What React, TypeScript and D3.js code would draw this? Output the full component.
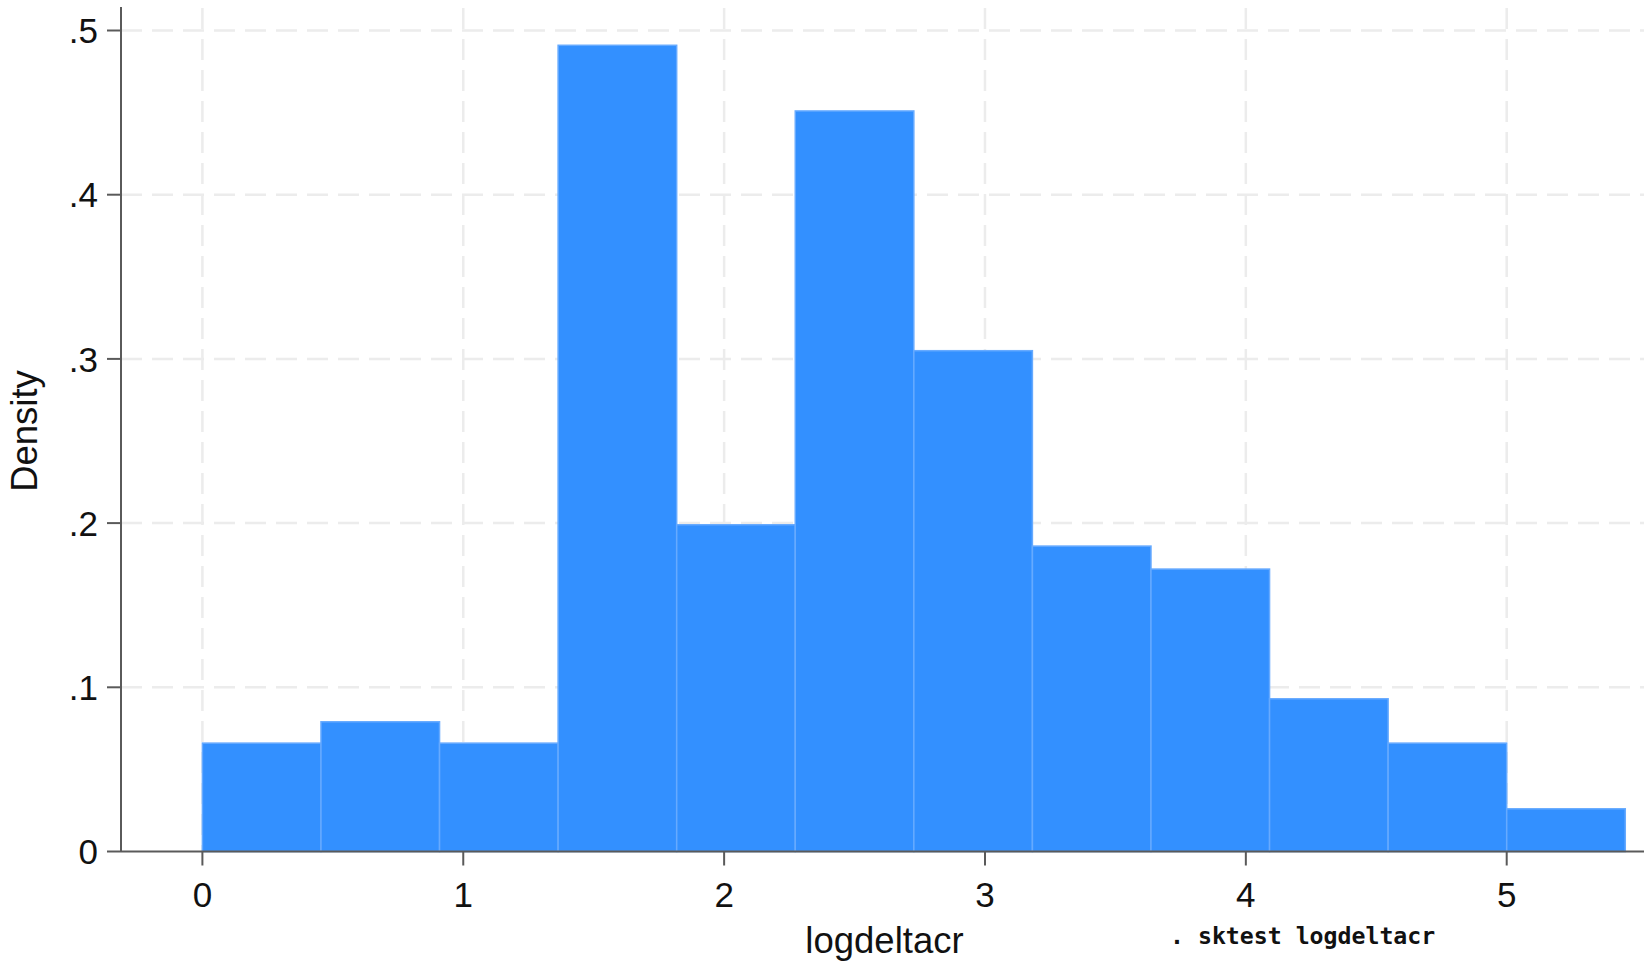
import React from "react";
import * as d3 from "d3";

// Histogram data (density per bin), bins start at 0 with width 5/11
const binStart = 0;
const binWidth = 5 / 11;
const densities = [0.066, 0.079, 0.066, 0.491, 0.199, 0.451, 0.305, 0.186, 0.172, 0.093, 0.066, 0.026];
const xTicks = [0, 1, 2, 3, 4, 5];
const yTicks = [0, 0.1, 0.2, 0.3, 0.4, 0.5];
const yTickLabels = ["0", ".1", ".2", ".3", ".4", ".5"];
const xTitle = "logdeltacr";
const yTitle = "Density";
const note = ". sktest logdeltacr";

const W = 1644;
const H = 966;

export default function App() {
  const x = d3.scaleLinear().domain([0, 5]).range([202.4, 1506.7]);
  const y = d3.scaleLinear().domain([0, 0.5]).range([851.5, 30.5]);
  const axisLeft = 121;
  const plotTop = 7;
  const plotRight = W;
  const font = "'Liberation Sans', Arial, sans-serif";
  const gridColor = "#ececec";
  const axisColor = "#5a5a5a";

  return (
    <svg
      width={W}
      height={H}
      viewBox={`0 0 ${W} ${H}`}
      style={{ position: "absolute", left: 0, top: 0, background: "#fff" }}
    >
      <rect x={0} y={0} width={W} height={H} fill="#fff" />
      {/* grid */}
      {yTicks.filter((t) => t > 0).map((t) => (
        <line
          key={"gy" + t}
          x1={axisLeft}
          x2={plotRight}
          y1={y(t)}
          y2={y(t)}
          stroke={gridColor}
          strokeWidth={2.5}
          strokeDasharray="21 10"
        />
      ))}
      {xTicks.map((t) => (
        <line
          key={"gx" + t}
          x1={x(t)}
          x2={x(t)}
          y1={plotTop + 1}
          y2={y(0)}
          stroke={gridColor}
          strokeWidth={2.5}
          strokeDasharray="21 10"
        />
      ))}
      {/* bars */}
      {densities.map((d, i) => {
        const x0 = x(binStart + i * binWidth);
        const x1 = x(binStart + (i + 1) * binWidth);
        return (
          <rect
            key={"b" + i}
            x={x0}
            y={y(d)}
            width={x1 - x0}
            height={y(0) - y(d)}
            fill="#3390ff"
            stroke="#66aaff"
            strokeWidth={1.5}
          />
        );
      })}
      {/* axes */}
      <line x1={axisLeft} x2={axisLeft} y1={plotTop} y2={y(0)} stroke={axisColor} strokeWidth={2} />
      <line x1={axisLeft} x2={plotRight} y1={y(0)} y2={y(0)} stroke={axisColor} strokeWidth={2} />
      {yTicks.map((t, i) => (
        <g key={"yt" + t}>
          <line x1={axisLeft - 14} x2={axisLeft} y1={y(t)} y2={y(t)} stroke={axisColor} strokeWidth={2} />
          <text
            x={98}
            y={y(t)}
            dy="0.36em"
            textAnchor="end"
            fontFamily={font}
            fontSize={35}
            fill="#111"
          >
            {yTickLabels[i]}
          </text>
        </g>
      ))}
      {xTicks.map((t) => (
        <g key={"xt" + t}>
          <line x1={x(t)} x2={x(t)} y1={y(0)} y2={y(0) + 14} stroke={axisColor} strokeWidth={2} />
          <text
            x={x(t)}
            y={907}
            textAnchor="middle"
            fontFamily={font}
            fontSize={35}
            fill="#111"
          >
            {t}
          </text>
        </g>
      ))}
      <text
        x={884.5}
        y={953}
        textAnchor="middle"
        fontFamily={font}
        fontSize={36.5}
        fill="#111"
      >
        {xTitle}
      </text>
      <text
        transform={`translate(37,431) rotate(-90)`}
        textAnchor="middle"
        fontFamily={font}
        fontSize={36.5}
        fill="#111"
      >
        {yTitle}
      </text>
      <text
        x={1170}
        y={944}
        fontFamily="'DejaVu Sans Mono', monospace"
        fontWeight="bold"
        fontSize={23.2}
        fill="#111"
      >
        {note}
      </text>
    </svg>
  );
}
